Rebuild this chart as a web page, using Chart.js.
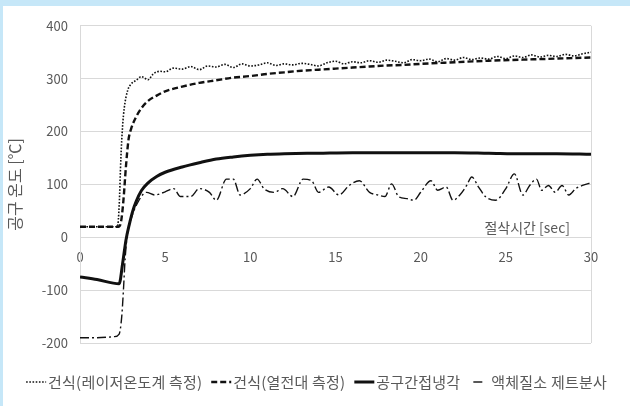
<!DOCTYPE html>
<html><head><meta charset="utf-8">
<script src="https://cdn.jsdelivr.net/npm/chart.js@4/dist/chart.umd.min.js"></script>
<style>
html,body{margin:0;padding:0;width:630px;height:406px;background:#c6e7f8;overflow:hidden}
#wrap{position:absolute;left:3px;top:6px;width:627px;height:400px;background:#fff}
</style></head><body>
<div id="wrap"><canvas id="c"></canvas></div>
<script>
const seriesNames = ['건식(레이저온도계 측정)', '건식(열전대 측정)', '공구간접냉각', '액체질소 제트분사'];
const xTitle = '절삭시간 [sec]';
const yTitle = '공구 온도 [℃]';
const xTicks = [0, 5, 10, 15, 20, 25, 30];
const yTicks = [-200, -100, 0, 100, 200, 300, 400];

const laserTime = [0, 1, 2.2, 2.3, 2.4, 2.5, 2.6, 2.8, 3.0, 3.3, 3.6, 4.0, 4.3, 4.7, 5.0, 5.5, 6.0, 6.5, 7.0, 7.5, 8.0, 8.5, 9.0, 9.5, 10.0, 10.5, 11.0, 11.5, 12.0, 12.5, 13.0, 13.5, 14.0, 14.5, 15.0, 15.5, 16.0, 16.5, 17.0, 17.5, 18.0, 18.5, 19.0, 19.5, 20.0, 20.5, 21.0, 21.5, 22.0, 22.5, 23.0, 23.5, 24.0, 24.5, 25.0, 25.5, 26.0, 26.5, 27.0, 27.5, 28.0, 28.5, 29.0, 29.5, 30.0];
const laserTemp = [20, 20, 20, 60, 150, 210, 245, 278, 290, 297, 304, 298, 309, 314, 313, 320, 318, 323, 317, 324, 322, 327, 321, 328, 324, 326, 330, 325, 328, 326, 329, 327, 324, 330, 333, 328, 332, 330, 334, 331, 335, 333, 330, 336, 334, 337, 332, 338, 335, 340, 336, 339, 337, 342, 338, 343, 340, 345, 341, 344, 342, 346, 343, 347, 350];

const tcTime = [0, 1, 2.25, 2.4, 2.55, 2.7, 2.85, 3.0, 3.3, 3.6, 4.0, 4.5, 5, 6, 7, 8, 9, 10, 11, 12, 13, 14, 15, 16, 17, 18, 19, 20, 22, 24, 26, 28, 30];
const tcTemp = [20, 20, 20, 28, 70, 135, 185, 205, 228, 244, 258, 268, 276, 285, 292, 297, 302, 305, 309, 312, 315, 317, 319, 321, 323, 325, 326, 328, 331, 334, 336, 338, 340];

const indirectTime = [0, 1, 2.3, 2.5, 2.7, 2.9, 3.1, 3.3, 3.6, 4.0, 4.5, 5, 6, 7, 8, 9, 10, 11, 12, 14, 16, 18, 20, 22, 24, 26, 28, 30];
const indirectTemp = [-75, -80, -88, -50, -5, 25, 50, 68, 88, 103, 115, 123, 133, 141, 148, 152, 155, 157, 158, 159, 160, 160, 160, 160, 159, 158, 158, 157];

const ln2Time = [0, 1, 2.0, 2.3, 2.45, 2.55, 2.65, 2.8, 3.0, 3.3, 3.9, 4.4, 5.0, 5.5, 5.9, 6.5, 7.0, 7.6, 8.0, 8.6, 9.0, 9.4, 10.0, 10.4, 10.8, 11.4, 11.9, 12.5, 13.1, 13.6, 14.0, 14.6, 15.2, 15.8, 16.4, 17.0, 17.5, 17.9, 18.3, 18.7, 19.2, 19.6, 20.0, 20.6, 21.0, 21.5, 21.9, 22.3, 22.7, 23.0, 23.4, 23.8, 24.4, 25.0, 25.5, 26.0, 26.4, 26.8, 27.1, 27.5, 27.9, 28.3, 28.7, 29.1, 29.5, 30.0];
const ln2Temp = [-190, -190, -188, -183, -150, -100, -40, 10, 35, 60, 85, 80, 86, 92, 77, 77, 92, 85, 70, 110, 110, 80, 92, 110, 92, 85, 92, 77, 110, 107, 85, 95, 80, 98, 107, 85, 80, 77, 101, 77, 73, 70, 85, 107, 89, 95, 70, 80, 98, 114, 95, 77, 70, 92, 120, 80, 98, 110, 89, 98, 85, 98, 80, 92, 98, 103];

const zip = (xs, ys) => xs.map((x, i) => ({x: x, y: ys[i]}));
const FONT = '"Noto Sans CJK KR", "Noto Sans", sans-serif';
const GRAY = '#595959';
const GRID = '#d9d9d9';

const styles = [
  {borderWidth: 1.6, borderDash: [1.6, 1.6]},
  {borderWidth: 2.4, borderDash: [6, 3]},
  {borderWidth: 3, borderDash: []},
  {borderWidth: 1.4, borderDash: [9, 3, 2, 3]}
];
const seriesData = [zip(laserTime, laserTemp), zip(tcTime, tcTemp), zip(indirectTime, indirectTemp), zip(ln2Time, ln2Temp)];

const datasets = seriesData.map((d, i) => ({
  label: seriesNames[i],
  data: d,
  borderColor: '#111',
  backgroundColor: '#111',
  borderWidth: styles[i].borderWidth,
  borderDash: styles[i].borderDash,
  pointRadius: 0,
  cubicInterpolationMode: 'monotone',
  fill: false
}));

const extras = {
  id: 'extras',
  afterDraw(chart) {
    const ctx = chart.ctx;
    const ca = chart.chartArea;
    const ys = chart.scales.y;
    // x axis title
    ctx.save();
    ctx.font = '14px ' + FONT;
    ctx.fillStyle = GRAY;
    ctx.textAlign = 'right';
    ctx.textBaseline = 'middle';
    ctx.fillText(xTitle, ca.right - 21, ys.getPixelForValue(0) - 10);
    ctx.restore();
    // legend
    ctx.save();
    ctx.font = '15px ' + FONT;
    if ('letterSpacing' in ctx) ctx.letterSpacing = '0.2px';
    const sample = 20, gap = 2, spacing = 9;
    const widths = seriesNames.map(n => ctx.measureText(n).width);
    const total = widths.reduce((a, w) => a + sample + gap + w, 0) + spacing * (seriesNames.length - 1);
    let x = (chart.width - total) / 2;
    const y = 376;
    seriesNames.forEach((n, i) => {
      ctx.beginPath();
      ctx.strokeStyle = '#111';
      ctx.lineWidth = styles[i].borderWidth;
      ctx.setLineDash(styles[i].borderDash);
      if (i === 3) { ctx.moveTo(x + 4, y); ctx.lineTo(x + 14, y); }
      else { ctx.moveTo(x, y); ctx.lineTo(x + sample, y); }
      ctx.stroke();
      ctx.setLineDash([]);
      ctx.fillStyle = GRAY;
      ctx.textAlign = 'left';
      ctx.textBaseline = 'middle';
      ctx.fillText(n, x + sample + gap, y);
      x += sample + gap + widths[i] + spacing;
    });
    ctx.restore();
  }
};

new Chart(document.getElementById('c'), {
  type: 'line',
  data: {datasets: datasets},
  options: {
    responsive: true,
    maintainAspectRatio: false,
    animation: false,
    layout: {padding: {top: 19, right: 39, bottom: 63, left: 0}},
    plugins: {legend: {display: false}, tooltip: {enabled: false}},
    scales: {
      x: {
        type: 'linear', min: 0, max: 30,
        position: {y: 0},
        afterBuildTicks: s => { s.ticks = xTicks.map(v => ({value: v})); },
        ticks: {padding: 12, color: GRAY, font: {family: FONT, size: 13}},
        grid: {drawTicks: false, color: c => (c.tick && c.tick.value === 30) ? GRID : 'rgba(0,0,0,0)'},
        border: {display: false}
      },
      y: {
        min: -200, max: 400,
        afterBuildTicks: s => { s.ticks = yTicks.map(v => ({value: v})); },
        afterFit: s => { s.width = 77; },
        ticks: {padding: 12, color: GRAY, font: {family: FONT, size: 13}},
        grid: {drawTicks: false, color: GRID},
        border: {color: GRID},
        title: {display: true, text: yTitle, color: GRAY, font: {family: FONT, size: 16}, padding: {top: 2, bottom: 0}}
      }
    }
  },
  plugins: [extras]
});
</script>
</body></html>
